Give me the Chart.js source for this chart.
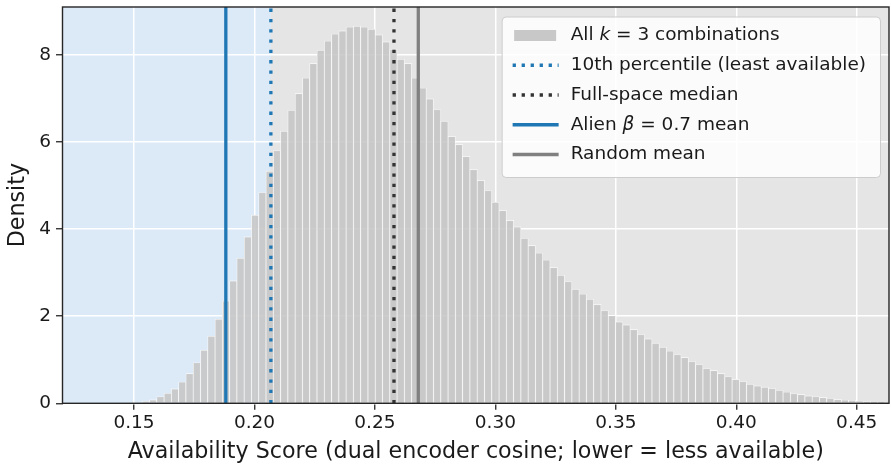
<!DOCTYPE html>
<html><head><meta charset="utf-8">
<script src="https://cdn.jsdelivr.net/npm/chart.js@4.4.1/dist/chart.umd.min.js"></script>
<style>html,body{margin:0;padding:0;background:#fff;}#wrap{width:891px;height:464px;}</style>
</head><body><div id="wrap"><canvas id="c" width="891" height="464"></canvas></div>
<script>
// ---- data ----
const BIN_FIRST_CENTER = 0.15491;   // centre of first histogram bin
const BIN_WIDTH = 0.003023;         // histogram bin width
const density = [
  0.05, 0.08, 0.15, 0.23, 0.33, 0.49, 0.68, 0.93, 1.22, 1.54,
  1.93, 2.35, 2.81, 3.33, 3.82, 4.32, 4.84, 5.33, 5.80,
  6.25, 6.73, 7.11, 7.47, 7.80, 8.11, 8.32, 8.48, 8.55, 8.64,
  8.66, 8.64, 8.59, 8.46, 8.30, 8.13, 7.90, 7.80, 7.47, 7.24,
  6.99, 6.74, 6.48, 6.13, 5.94, 5.67, 5.37, 5.12,
  4.88, 4.62, 4.43, 4.20, 4.05, 3.79, 3.62, 3.45, 3.29, 3.12,
  2.94, 2.79, 2.62, 2.51, 2.39, 2.27, 2.13, 2.01, 1.87, 1.80,
  1.69, 1.58, 1.48, 1.38, 1.29, 1.20, 1.12,
  1.05, 0.96, 0.89, 0.80, 0.75, 0.68, 0.61, 0.55, 0.50, 0.44,
  0.40, 0.37, 0.34, 0.30, 0.26, 0.22, 0.20, 0.17, 0.15, 0.13,
  0.115, 0.09, 0.076, 0.069, 0.053, 0.037, 0.030, 0.023, 0.02
];
const xTicks = [0.15, 0.20, 0.25, 0.30, 0.35, 0.40, 0.45];
const yTicks = [0, 2, 4, 6, 8];
const X_MIN = 0.1203, X_MAX = 0.4634, Y_MAX = 9.1;
const lineLabels = ["10th percentile (least available)", "Full-space median", "Alien \u03b2 = 0.7 mean", "Random mean"];
const lineValues = [0.2068, 0.2579, 0.1881, 0.2680];
const barLabel = "All k = 3 combinations";

// ---- styles ----
const FONT = '"DejaVu Sans", sans-serif';
const TXT = '#1a1a1a';
const BAR_FILL = 'rgba(196,196,196,0.85)';
const lineStyles = [
  {color: '#1f77b4', width: 3.3, dash: [3.3, 7.0]},
  {color: '#333333', width: 3.3, dash: [3.3, 7.0]},
  {color: '#1f77b4', width: 3.3, dash: []},
  {color: '#808080', width: 3.3, dash: []}
];

const barData = density.map((y, i) => ({x: BIN_FIRST_CENTER + i * BIN_WIDTH, y}));
const datasets = [{
  type: 'bar', label: barLabel, data: barData,
  backgroundColor: BAR_FILL, borderColor: '#ffffff', borderWidth: 0.65,
  borderSkipped: 'bottom', barPercentage: 1, categoryPercentage: 1, order: 5
}];
lineValues.forEach((v, i) => {
  datasets.push({
    type: 'line', label: lineLabels[i],
    data: [{x: v, y: 0}, {x: v, y: Y_MAX}],
    borderColor: lineStyles[i].color, borderWidth: lineStyles[i].width,
    borderDash: lineStyles[i].dash, pointRadius: 0, fill: false, order: 1
  });
});

const bgPlugin = {
  id: 'bg',
  beforeDraw(chart) {
    const {ctx, chartArea: a, scales: {x}} = chart;
    ctx.save();
    ctx.fillStyle = '#ffffff';
    ctx.fillRect(0, 0, chart.width, chart.height);
    ctx.fillStyle = '#e5e5e5';
    ctx.fillRect(a.left, a.top, a.right - a.left, a.bottom - a.top);
    const x0 = x.getPixelForValue(X_MIN), x1 = x.getPixelForValue(lineValues[0]);
    ctx.fillStyle = '#dce9f7';
    ctx.fillRect(x0, a.top, x1 - x0, a.bottom - a.top);
    ctx.restore();
  },
  afterDraw(chart) {
    const {ctx, chartArea: a} = chart;
    ctx.save();
    ctx.strokeStyle = '#262626';
    ctx.lineWidth = 1.4;
    ctx.strokeRect(a.left, a.top, a.right - a.left, a.bottom - a.top);
    // legend
    const fs = 18.5;
    const norm = fs + 'px ' + FONT, ital = 'italic ' + fs + 'px ' + FONT;
    const entries = [
      {parts: [["All ", norm], ["k", ital], [" = 3 combinations", norm]], kind: 'patch'},
      {parts: [[lineLabels[0], norm]], kind: 'line', st: lineStyles[0]},
      {parts: [[lineLabels[1], norm]], kind: 'line', st: lineStyles[1]},
      {parts: [["Alien ", norm], ["\u03b2", ital], [" = 0.7 mean", norm]], kind: 'line', st: lineStyles[2]},
      {parts: [[lineLabels[3], norm]], kind: 'line', st: lineStyles[3]}
    ];
    let maxW = 0;
    entries.forEach(e => {
      let w = 0;
      e.parts.forEach(p => { ctx.font = p[1]; w += ctx.measureText(p[0]).width; });
      e.w = w; maxW = Math.max(maxW, w);
    });
    const boxW = 11 + 46 + 12 + maxW + 14;
    const boxR = a.right - 9;
    const boxL = boxR - boxW;
    const boxT = a.top + 9.5;
    const boxH = 160.5;
    ctx.beginPath();
    ctx.roundRect(boxL + 0.5, boxT + 0.5, boxW, boxH, 4);
    ctx.fillStyle = 'rgba(255,255,255,0.85)';
    ctx.fill();
    ctx.strokeStyle = '#cccccc';
    ctx.lineWidth = 1;
    ctx.stroke();
    entries.forEach((e, i) => {
      const cy = boxT + 19 + i * 29.75;
      const hx = boxL + 11;
      if (e.kind === 'patch') {
        ctx.fillStyle = '#c8c8c8';
        ctx.fillRect(hx + 1.5, cy - 5.5, 42, 11);
      } else {
        ctx.beginPath();
        ctx.strokeStyle = e.st.color;
        ctx.lineWidth = e.st.width;
        ctx.setLineDash(e.st.dash.length ? [3.3, 5.7] : []);
        ctx.moveTo(hx, cy); ctx.lineTo(hx + 46, cy);
        ctx.stroke();
        ctx.setLineDash([]);
      }
      let tx = hx + 46 + 12;
      ctx.fillStyle = TXT;
      ctx.textBaseline = 'middle';
      ctx.textAlign = 'left';
      e.parts.forEach(p => { ctx.font = p[1]; ctx.fillText(p[0], tx, cy); tx += ctx.measureText(p[0]).width; });
    });
    ctx.restore();
  }
};

new Chart(document.getElementById('c'), {
  data: {datasets},
  options: {
    responsive: false, animation: false, events: [],
    layout: {padding: {left: 0, right: 2, top: 7, bottom: 0}},
    plugins: {legend: {display: false}, tooltip: {enabled: false}},
    scales: {
      x: {
        type: 'linear', min: X_MIN, max: X_MAX, offset: false,
        grid: {offset: false, color: '#ffffff', lineWidth: 1.5, tickColor: '#262626', tickLength: 6.5, tickWidth: 1.3},
        border: {display: false},
        ticks: {color: TXT, font: {family: FONT, size: 18.5}, padding: 2, maxRotation: 0,
                callback: v => Number(v).toFixed(2)},
        afterBuildTicks: s => { s.ticks = xTicks.map(v => ({value: v})); },
        afterFit: s => { s.height = 60.7; s.paddingLeft = 0; s.paddingRight = 0; },
        title: {display: true, text: 'Availability Score (dual encoder cosine; lower = less available)',
                color: TXT, font: {family: FONT, size: 22.2}, padding: {top: 0, bottom: -2}}
      },
      y: {
        type: 'linear', min: 0, max: Y_MAX,
        grid: {color: '#ffffff', lineWidth: 1.5, tickColor: '#262626', tickLength: 6.5, tickWidth: 1.3},
        border: {display: false},
        ticks: {color: TXT, font: {family: FONT, size: 18.5}, padding: 5, callback: v => String(v)},
        afterBuildTicks: s => { s.ticks = yTicks.map(v => ({value: v})); },
        afterFit: s => { s.width = 62.5; s.paddingTop = 0; s.paddingBottom = 0; },
        title: {display: true, text: 'Density', color: TXT, font: {family: FONT, size: 22.2}, padding: {top: 5, bottom: 0}}
      }
    }
  },
  plugins: [bgPlugin]
});
</script></body></html>
